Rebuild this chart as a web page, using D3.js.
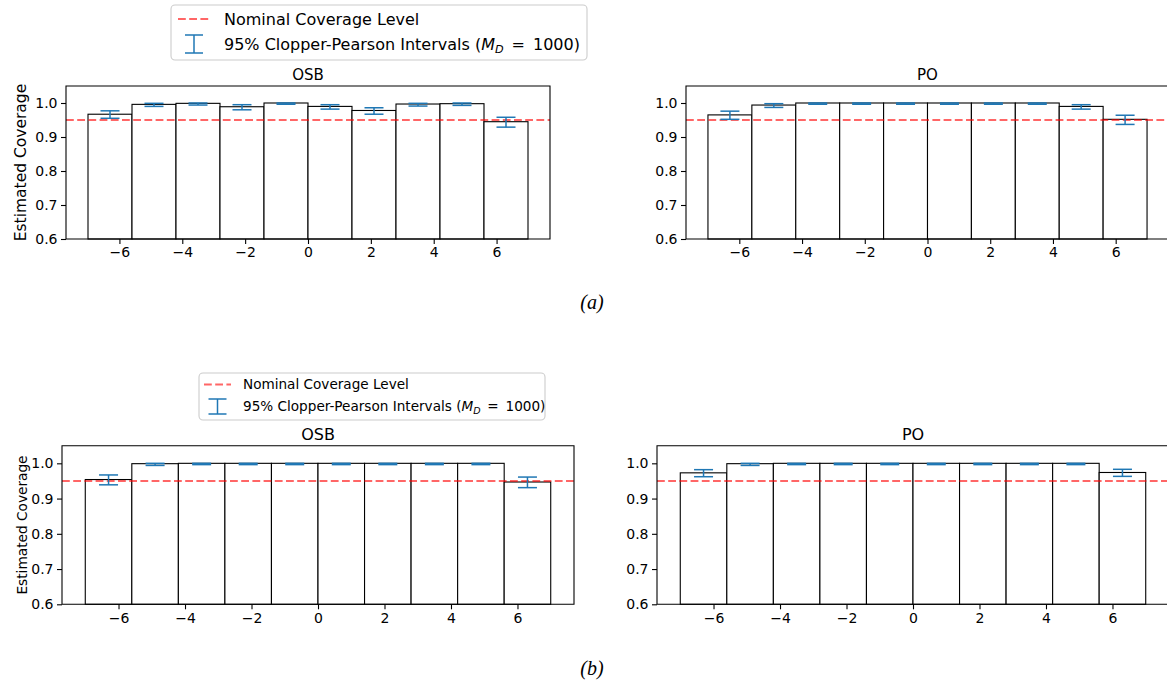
<!DOCTYPE html>
<html>
<head>
<meta charset="utf-8">
<script src="https://cdn.jsdelivr.net/npm/d3@7"></script>
<style>
  html, body { margin: 0; padding: 0; background: #fff; overflow: hidden; }
  svg { display: block; }
  text { font-family: "DejaVu Sans", sans-serif; fill: #000; }
</style>
</head>
<body>
<script>
// ---------- DATA ----------
const binEdges = [-7, -5.6, -4.2, -2.8, -1.4, 0, 1.4, 2.8, 4.2, 5.6, 7];
const xTicks = [-6, -4, -2, 0, 2, 4, 6];
const yTicks = [0.6, 0.7, 0.8, 0.9, 1.0];
const nominalLevel = 0.95;
const panelTitles = ["OSB", "PO"];
const captions = ["(a)", "(b)"];
const legendLabels = ["Nominal Coverage Level", "95% Clopper-Pearson Intervals ("];
const yLabel = "Estimated Coverage";

// (a) OSB
const osbA   = [0.967, 0.996, 0.999, 0.989, 1.000, 0.990, 0.978, 0.997, 0.998, 0.945];
const osbALo = [0.955, 0.990, 0.994, 0.980, 0.9963, 0.982, 0.967, 0.991, 0.993, 0.929];
const osbAHi = [0.977, 0.999, 1.000, 0.995, 1.000, 0.995, 0.986, 0.999, 1.000, 0.958];
// (a) PO
const poA    = [0.965, 0.994, 1.000, 1.000, 1.000, 1.000, 1.000, 1.000, 0.990, 0.952];
const poALo  = [0.952, 0.987, 0.9963, 0.9963, 0.9963, 0.9963, 0.9963, 0.9963, 0.982, 0.937];
const poAHi  = [0.976, 0.998, 1.000, 1.000, 1.000, 1.000, 1.000, 1.000, 0.995, 0.964];
// (b) OSB
const osbB   = [0.954, 0.999, 1.000, 1.000, 1.000, 1.000, 1.000, 1.000, 1.000, 0.947];
const osbBLo = [0.939, 0.994, 0.9963, 0.9963, 0.9963, 0.9963, 0.9963, 0.9963, 0.9963, 0.931];
const osbBHi = [0.967, 1.000, 1.000, 1.000, 1.000, 1.000, 1.000, 1.000, 1.000, 0.961];
// (b) PO
const poB    = [0.973, 0.999, 1.000, 1.000, 1.000, 1.000, 1.000, 1.000, 1.000, 0.974];
const poBLo  = [0.962, 0.994, 0.9963, 0.9963, 0.9963, 0.9963, 0.9963, 0.9963, 0.9963, 0.963];
const poBHi  = [0.982, 1.000, 1.000, 1.000, 1.000, 1.000, 1.000, 1.000, 1.000, 0.983];

// ---------- DRAW ----------
const W = 1167, H = 686;
const svg = d3.select("body").append("svg").attr("width", W).attr("height", H);
svg.append("rect").attr("width", W).attr("height", H).attr("fill", "#fff");

const errColor = "#1f77b4";

function panel(o) {
  const x = d3.scaleLinear().domain([-7.7, 7.7]).range([o.left, o.right]);
  const y = d3.scaleLinear().domain([0.6, 1.05]).range([o.bottom, o.top]);
  const g = svg.append("g");

  // bars
  g.selectAll("rect.bar").data(o.values).join("rect")
    .attr("class", "bar")
    .attr("x", (d, i) => x(binEdges[i]))
    .attr("width", (d, i) => x(binEdges[i + 1]) - x(binEdges[i]))
    .attr("y", d => y(d))
    .attr("height", d => y(0.6) - y(d))
    .attr("fill", "#fff")
    .attr("stroke", "#000")
    .attr("stroke-width", 1.1);

  // nominal line
  g.append("line")
    .attr("x1", o.left).attr("x2", o.right)
    .attr("y1", y(nominalLevel)).attr("y2", y(nominalLevel))
    .attr("stroke", "#ff0000").attr("stroke-opacity", 0.6)
    .attr("stroke-width", 2.1).attr("stroke-dasharray", "7.8,3.4");

  // error bars
  const cap = 9.5;
  const eb = g.selectAll("g.eb").data(o.values).join("g").attr("class", "eb");
  const cx = (i) => x((binEdges[i] + binEdges[i + 1]) / 2);
  eb.append("line")
    .attr("x1", (d, i) => cx(i)).attr("x2", (d, i) => cx(i))
    .attr("y1", (d, i) => y(o.lo[i])).attr("y2", (d, i) => y(o.hi[i]))
    .attr("stroke", errColor).attr("stroke-width", 1.5);
  eb.append("line")
    .attr("x1", (d, i) => cx(i) - cap).attr("x2", (d, i) => cx(i) + cap)
    .attr("y1", (d, i) => y(o.lo[i])).attr("y2", (d, i) => y(o.lo[i]))
    .attr("stroke", errColor).attr("stroke-width", 1.5);
  eb.append("line")
    .attr("x1", (d, i) => cx(i) - cap).attr("x2", (d, i) => cx(i) + cap)
    .attr("y1", (d, i) => y(o.hi[i])).attr("y2", (d, i) => y(o.hi[i]))
    .attr("stroke", errColor).attr("stroke-width", 1.5);

  // axes
  const xa = g.append("g").attr("transform", `translate(0,${o.bottom})`)
    .call(d3.axisBottom(x).tickValues(xTicks).tickSize(5).tickPadding(3.5).tickFormat(d3.format("d")));
  const ya = g.append("g").attr("transform", `translate(${o.left},0)`)
    .call(d3.axisLeft(y).tickValues(yTicks).tickSize(5).tickPadding(3.5).tickFormat(d3.format(".1f")));
  [xa, ya].forEach(a => {
    a.select(".domain").remove();
    a.selectAll("line").attr("stroke", "#000").attr("stroke-width", 1.1);
    a.selectAll("text").style("font-size", o.tickFont + "px").style("font-family", "DejaVu Sans").attr("fill", "#000");
  });

  // spines (right spine lies outside the cropped figure for the right-hand panels)
  const L = o.left, R = o.right, T = o.top, B = o.bottom;
  const spinePath = o.noRightSpine
    ? `M${R + 10},${T}H${L}V${B}H${R + 10}`
    : `M${L},${T}H${R}V${B}H${L}Z`;
  g.append("path").attr("d", spinePath)
    .attr("fill", "none").attr("stroke", "#000").attr("stroke-width", 1.1);

  // title
  g.append("text")
    .attr("x", x(0)).attr("y", o.top - 6)
    .attr("text-anchor", "middle")
    .style("font-size", o.titleFont + "px")
    .text(o.title);

  if (o.ylabel) {
    g.append("text")
      .attr("transform", `translate(${o.ylabelX},${(o.top + o.bottom) / 2}) rotate(-90)`)
      .attr("text-anchor", "middle")
      .attr("dy", "0.35em")
      .style("font-size", o.ylabelFont + "px")
      .text(yLabel);
  }
}

function legend(o) {
  const g = svg.append("g");
  g.append("rect")
    .attr("x", o.x0).attr("y", o.y0)
    .attr("width", o.x1 - o.x0).attr("height", o.y1 - o.y0)
    .attr("rx", 4).attr("ry", 4)
    .attr("fill", "#fff").attr("fill-opacity", 0.8)
    .attr("stroke", "#cccccc").attr("stroke-width", 1.1);
  // row 1: dashed line
  g.append("line")
    .attr("x1", o.lineX0).attr("x2", o.lineX1)
    .attr("y1", o.row1).attr("y2", o.row1)
    .attr("stroke", "#ff0000").attr("stroke-opacity", 0.6)
    .attr("stroke-width", 2.1).attr("stroke-dasharray", "7.8,3.4");
  g.append("text").attr("x", o.textX).attr("y", o.row1).attr("dy", "0.35em")
    .style("font-size", o.font + "px").text(legendLabels[0]);
  // row 2: error bar marker
  const mx = (o.lineX0 + o.lineX1) / 2;
  const h = o.markerH / 2;
  [[mx, o.row2 - h, mx, o.row2 + h],
   [mx - o.capW, o.row2 - h, mx + o.capW, o.row2 - h],
   [mx - o.capW, o.row2 + h, mx + o.capW, o.row2 + h]].forEach(c => {
    g.append("line").attr("x1", c[0]).attr("y1", c[1]).attr("x2", c[2]).attr("y2", c[3])
      .attr("stroke", errColor).attr("stroke-width", 1.5);
  });
  const t = g.append("text").attr("x", o.textX).attr("y", o.row2).attr("dy", "0.35em")
    .style("font-size", o.font + "px");
  t.append("tspan").text(legendLabels[1]);
  t.append("tspan").style("font-style", "italic").text("M");
  t.append("tspan").style("font-style", "italic").style("font-size", (o.font * 0.7) + "px")
    .attr("dy", o.font * 0.22).text("D");
  t.append("tspan").attr("dy", -o.font * 0.22).text("\u2002=\u20021000)");
}

// ----- Row (a) -----
panel({ left: 66, right: 550, top: 86, bottom: 239, values: osbA, lo: osbALo, hi: osbAHi,
        title: panelTitles[0], tickFont: 14, titleFont: 15, ylabel: true, ylabelX: 21, ylabelFont: 15.5 });
panel({ left: 686, right: 1169, top: 86, bottom: 239, values: poA, lo: poALo, hi: poAHi,
        title: panelTitles[1], tickFont: 14, titleFont: 15, ylabel: false, noRightSpine: true });
legend({ x0: 171, x1: 587, y0: 5, y1: 60, row1: 19, row2: 44, lineX0: 178, lineX1: 210,
         textX: 224, font: 16, capW: 9, markerH: 18 });

// ----- Row (b) -----
panel({ left: 62, right: 574, top: 445.7, bottom: 604.3, values: osbB, lo: osbBLo, hi: osbBHi,
        title: panelTitles[0], tickFont: 14, titleFont: 16, ylabel: true, ylabelX: 22, ylabelFont: 13.7 });
panel({ left: 657, right: 1169, top: 445.7, bottom: 604.3, values: poB, lo: poBLo, hi: poBHi,
        title: panelTitles[1], tickFont: 14, titleFont: 16, ylabel: false, noRightSpine: true });
legend({ x0: 199, x1: 545, y0: 373, y1: 420, row1: 384.5, row2: 406.5, lineX0: 204, lineX1: 231,
         textX: 243, font: 13.6, capW: 9, markerH: 15 });

// captions
svg.append("text").attr("x", 592).attr("y", 309).attr("text-anchor", "middle")
  .style("font-family", "'Liberation Serif', serif").style("font-style", "italic").style("font-size", "20px")
  .text(captions[0]);
svg.append("text").attr("x", 592).attr("y", 675).attr("text-anchor", "middle")
  .style("font-family", "'Liberation Serif', serif").style("font-style", "italic").style("font-size", "20px")
  .text(captions[1]);
</script>
</body>
</html>
